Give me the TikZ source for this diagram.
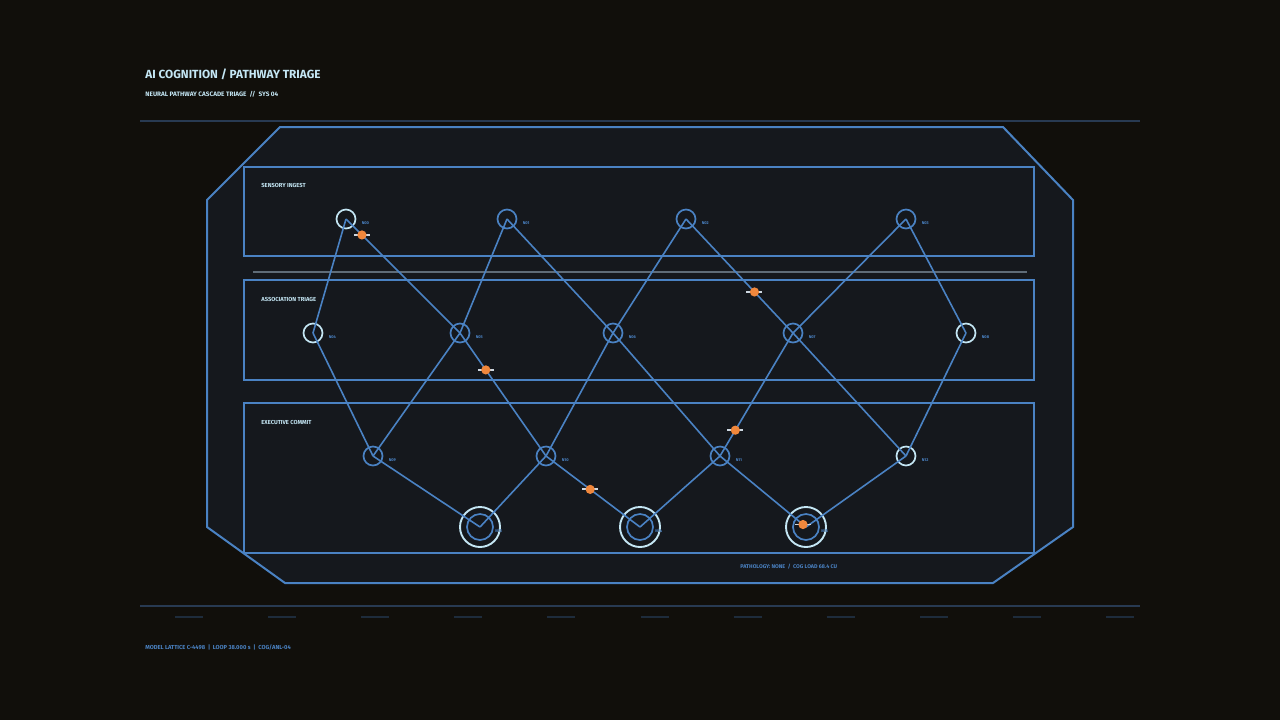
\documentclass[tikz,border=0pt]{standalone}
\usepackage{fontspec}
\setmainfont{Fira Sans}
\usetikzlibrary{calc}

\definecolor{bgdark}{RGB}{17,15,11}
\definecolor{panelfill}{RGB}{21,24,29}
\definecolor{wireblue}{RGB}{74,130,195}
\definecolor{icewhite}{RGB}{196,230,244}
\definecolor{railblue}{RGB}{40,58,82}
\definecolor{tickblue}{RGB}{30,44,60}
\definecolor{sepgray}{RGB}{95,108,120}
\definecolor{pulseorange}{RGB}{240,135,60}
\definecolor{pulsebar}{RGB}{205,215,225}

\begin{document}
\begin{tikzpicture}[x=0.5pt, y=-0.5pt,
  frame/.style={draw=wireblue, fill=panelfill, line width=1pt},
  panel/.style={draw=wireblue, line width=0.75pt},
  wire/.style={draw=wireblue, line width=0.8pt},
  cell/.style={circle, draw=wireblue, line width=0.85pt, minimum size=9.5pt, inner sep=0pt},
  hot/.style={cell, draw=icewhite},
  commit/.style={circle, draw=icewhite, line width=0.95pt, minimum size=20pt, inner sep=0pt},
  core/.style={circle, draw=wireblue, line width=0.85pt, minimum size=13pt, inner sep=0pt},
  tag/.style={font=\bfseries\fontsize{2}{2}\selectfont, text=wireblue, inner sep=0pt, yshift=-2pt},
  title/.style={font=\bfseries\fontsize{5.9}{6}\selectfont, text=icewhite, inner sep=0pt, anchor=base west},
  caption/.style={font=\bfseries\fontsize{3.2}{3}\selectfont, text=icewhite, inner sep=0pt, anchor=base west},
  layer/.style={caption, font=\bfseries\fontsize{2.9}{3}\selectfont},
  note/.style={font=\bfseries\fontsize{2.9}{3}\selectfont, text=wireblue, inner sep=0pt, anchor=base west},
  pulse/.style={circle, fill=pulseorange, minimum size=4.6pt, inner sep=0pt},
  ]
  \fill[bgdark] (0,0) rectangle (1280,720);

  \node[title] (title) at (145,78) {AI COGNITION / PATHWAY TRIAGE};
  \node[caption] (subtitle) at (145,96) {NEURAL PATHWAY CASCADE TRIAGE\ \ //\ \ SYS 04};

  \draw[railblue, line width=0.75pt] (140,121) -- (1140,121);
  \draw[railblue, line width=0.75pt] (140,606) -- (1140,606);
  \foreach \i in {0,...,10}
    \draw[tickblue, line width=0.75pt] ({175+93.1*\i},617) -- +(28,0);

  \draw[frame] (280,127) -- (1003,127) -- (1073,200) -- (1073,527) -- (993,583)
    -- (285,583) -- (207,527) -- (207,200) -- cycle;

  \draw[panel] (244,167) rectangle (1034,256);
  \draw[sepgray, line width=1pt] (253,272) -- (1027,272);
  \draw[panel] (244,280) rectangle (1034,380);
  \draw[panel] (244,403) rectangle (1034,553);

  \node[layer] (sensory) at (261,187) {SENSORY INGEST};
  \node[layer] (association) at (261,301) {ASSOCIATION TRIAGE};
  \node[layer] (executive) at (261,424) {EXECUTIVE COMMIT};

  \foreach \n/\x/\y/\s in {00/346/219/hot, 01/507/219/cell, 02/686/219/cell, 03/906/219/cell,
      04/313/333/hot, 05/460/333/cell, 06/613/333/cell, 07/793/333/cell, 08/966/333/hot,
      09/373/456/cell, 10/546/456/cell, 11/720/456/cell, 12/906/456/hot}
    \node[\s, label={[tag, label distance=2.5pt]east:N\n}] (n\n) at (\x,\y) {};

  \foreach \n/\x in {13/480, 14/640, 15/806} {
    \node[commit, label={[tag, label distance=-3pt]east:N\n}] (n\n) at (\x,527) {};
    \node[core] (c\n) at (n\n) {};
  }

  \foreach \a/\b in {00/04, 00/05, 01/05, 01/06, 02/06, 02/07, 03/07, 03/08,
      04/09, 05/09, 05/10, 06/10, 06/11, 07/11, 07/12, 08/12,
      09/13, 10/13, 10/14, 11/14, 11/15, 12/15}
    \draw[wire] (n\a.center) -- (n\b.center);

  \foreach \a/\b/\t in {00/05/0.14, 05/10/0.30, 02/07/0.64, 07/11/0.79, 10/14/0.47, 11/15/0.965} {
    \draw[pulsebar, line width=0.9pt] ($(n\a.center)!\t!(n\b.center)$) +(-8,0) -- +(8,0);
    \node[pulse] at ($(n\a.center)!\t!(n\b.center)$) {};
  }

  \node[note, font=\bfseries\fontsize{2.7}{3}\selectfont] (pathology) at (740,568) {PATHOLOGY: NONE\ \ /\ \ COG LOAD 68.4 CU};
  \node[note] (footer) at (145,649) {MODEL LATTICE C-4498\ \ |\ \ LOOP 38.000 s\ \ |\ \ COG/ANL-04};
\end{tikzpicture}
\end{document}
